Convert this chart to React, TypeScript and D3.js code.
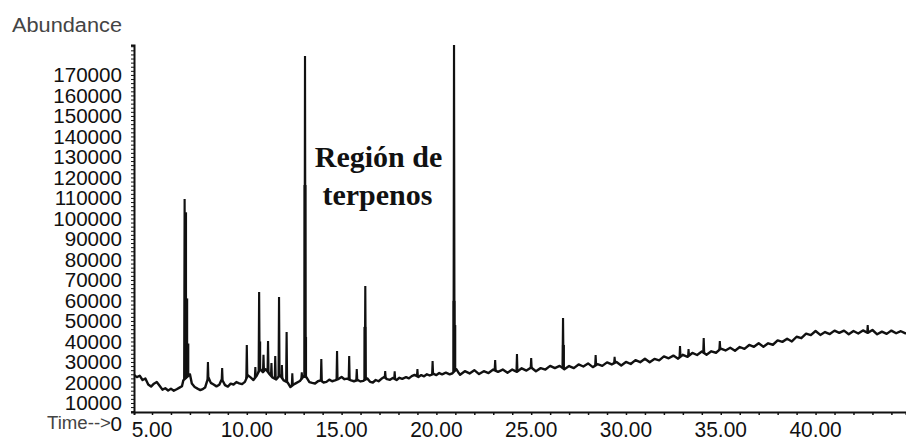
import React, { useEffect, useRef } from "react";
import * as d3 from "d3";

const WIDTH = 906;
const HEIGHT = 443;

// Baseline of the total-ion chromatogram: [retention time (min), abundance]
const baseline: [number, number][] = [
  [4.05, 23700], [4.2, 22600], [4.35, 23300], [4.5, 21200], [4.65, 21900], [4.8, 19000],
  [4.95, 18000], [5.1, 19400], [5.25, 20200], [5.4, 18400], [5.55, 16500], [5.7, 17200],
  [5.85, 16100], [6.0, 16900], [6.15, 16000], [6.3, 16700], [6.45, 17500], [6.58, 18200],
  [6.65, 21000], [7.0, 24000], [7.1, 19500], [7.25, 17800], [7.4, 17000], [7.55, 16300],
  [7.7, 16900], [7.8, 17500], [7.9, 20500], [8.0, 22000], [8.1, 19800], [8.25, 19000],
  [8.4, 18100], [8.55, 18900], [8.65, 21000], [8.75, 20500], [8.85, 18700], [9.0, 18000],
  [9.15, 19400], [9.3, 19000], [9.45, 20200], [9.6, 19600], [9.75, 19200], [9.9, 20300],
  [10.05, 23500], [10.2, 22500], [10.35, 21200], [10.5, 23000], [10.7, 26500], [10.85, 25000],
  [11.0, 26500], [11.2, 24000], [11.35, 22500], [11.55, 21500], [11.75, 23500], [11.95, 21000],
  [12.15, 20000], [12.3, 17800], [12.45, 18900], [12.6, 19700], [12.8, 20700], [13.0, 23000],
  [13.15, 22500], [13.3, 20200], [13.45, 19800], [13.6, 19500], [13.75, 20600], [13.9, 21000],
  [14.05, 20000], [14.2, 20300], [14.35, 21400], [14.5, 20600], [14.65, 21000], [14.85, 21800],
  [15.0, 22700], [15.15, 21600], [15.3, 21900], [15.5, 21000], [15.65, 20600], [15.85, 21200],
  [16.0, 20500], [16.15, 20800], [16.35, 22000], [16.5, 20300], [16.65, 20000], [16.8, 21200],
  [16.95, 20600], [17.1, 21800], [17.25, 22700], [17.4, 21600], [17.55, 21300], [17.7, 22200],
  [17.9, 21200], [18.05, 22300], [18.2, 21800], [18.4, 22600], [18.55, 22000], [18.7, 23100],
  [18.85, 23700], [19.05, 22700], [19.2, 23600], [19.35, 23000], [19.5, 24000], [19.65, 23400],
  [19.85, 24200], [20.0, 23600], [20.15, 24600], [20.3, 24000], [20.5, 24800], [20.7, 24000],
  [20.85, 24500], [21.05, 26500], [21.15, 25000],
  [21.25, 23800], [21.5, 25500], [21.75, 24400], [22.0, 26000], [22.25, 24100], [22.5, 25500],
  [22.75, 24600], [23.0, 26300], [23.25, 25200], [23.5, 26300], [23.75, 24700], [24.0, 26300],
  [24.25, 25200], [24.5, 26900], [24.75, 25800], [25.0, 27300], [25.25, 25500], [25.5, 27000],
  [25.75, 26300], [26.0, 28100], [26.25, 27000], [26.5, 28100], [26.75, 26400], [27.0, 28000],
  [27.25, 27000], [27.5, 28800], [27.75, 27800], [28.0, 29300], [28.25, 27500], [28.5, 28900],
  [28.75, 28100], [29.0, 29800], [29.25, 28800], [29.5, 30000], [29.75, 28300], [30.0, 30000],
  [30.25, 29000], [30.5, 30900], [30.75, 29900], [31.0, 31600], [31.25, 29900], [31.5, 31500],
  [31.75, 30800], [32.0, 32700], [32.25, 31800], [32.5, 33100], [32.75, 31600], [33.0, 33500],
  [33.25, 32500], [33.5, 34400], [33.75, 33400], [34.0, 35100], [34.25, 33500], [34.5, 35200],
  [34.75, 34500], [35.0, 36500], [35.25, 35600], [35.5, 36900], [35.75, 35500], [36.0, 37300],
  [36.25, 36400], [36.5, 38300], [36.75, 37400], [37.0, 39100], [37.25, 37400], [37.5, 39100],
  [37.75, 38400], [38.0, 40500], [38.25, 39800], [38.5, 41300], [38.75, 40000], [39.0, 42300],
  [39.25, 41600], [39.5, 43800], [39.75, 43100], [40.0, 45100], [40.25, 43200], [40.5, 44600],
  [40.75, 43600], [41.0, 45300], [41.25, 44200], [41.5, 45300], [41.75, 43500], [42.0, 45100],
  [42.25, 43900], [42.5, 45400], [42.75, 44200], [43.0, 45600], [43.25, 43500], [43.5, 44800],
  [43.75, 43700], [44.0, 45300], [44.25, 44000], [44.5, 45000], [44.77, 43800],
];

// Peak apexes: [retention time (min), abundance]
const peaks: [number, number][] = [
  [6.72, 109000], [7.95, 29500], [8.7, 26600], [10.0, 37800], [10.45, 27000],
  [10.65, 63700], [10.88, 33000], [11.12, 39800], [11.3, 29000], [11.5, 32400],
  [11.7, 61200], [11.85, 28000], [12.1, 44100], [12.4, 24000], [12.9, 24500],
  [13.07, 178800], [13.93, 31000], [14.76, 34900], [15.4, 32400], [15.8, 26100],
  [16.25, 66600], [17.3, 25100], [17.8, 25000], [19.0, 26100], [19.8, 30000],
  [20.93, 186000], [23.1, 30500], [24.25, 33400], [25.0, 31500], [26.68, 50900],
  [28.4, 32900], [29.4, 32000], [32.85, 37300], [33.3, 35900], [34.1, 41200],
  [34.95, 39800], [42.75, 47600],
];

// Co-eluting shoulders under the main apexes: [retention time (min), abundance]
const shoulders: [number, number][] = [
  [6.77, 103000], [6.83, 61000], [6.89, 39000], [10.68, 40000], [13.07, 116300],
  [13.1, 42200], [16.23, 47100], [20.93, 59800], [20.97, 48000], [26.7, 38300],
];

const yTickLabels = [
  0, 10000, 20000, 30000, 40000, 50000, 60000, 70000, 80000,
  90000, 100000, 110000, 120000, 130000, 140000, 150000, 160000, 170000,
];
const xTickLabels = [5, 10, 15, 20, 25, 30, 35, 40];

const INK = "#111";

function squeeze(sel: d3.Selection<SVGTextElement, any, any, any>, factor: number) {
  sel.each(function () {
    const w = this.getComputedTextLength();
    this.setAttribute("textLength", String(w * factor));
    this.setAttribute("lengthAdjust", "spacingAndGlyphs");
  });
}

export default function App() {
  const ref = useRef<SVGSVGElement | null>(null);

  useEffect(() => {
    const svg = d3.select(ref.current);
    svg.selectAll("*").remove();

    const x = d3.scaleLinear().domain([4.05, 44.77]).range([134, WIDTH]);
    const y = d3.scaleLinear().domain([5600, 184600]).range([412, 45]);

    const bis = d3.bisector((d: [number, number]) => d[0]).left;
    const baseAt = (t: number) => {
      const i = bis(baseline, t);
      if (i <= 0) return baseline[0][1];
      if (i >= baseline.length) return baseline[baseline.length - 1][1];
      const a = baseline[i - 1];
      const b = baseline[i];
      return a[1] + ((b[1] - a[1]) * (t - a[0])) / (b[0] - a[0]);
    };

    svg
      .append("defs")
      .append("clipPath")
      .attr("id", "plot-area")
      .append("rect")
      .attr("x", 134)
      .attr("y", 45)
      .attr("width", WIDTH - 134)
      .attr("height", 412 - 45);

    const line = d3
      .line<[number, number]>()
      .x((d) => x(d[0]))
      .y((d) => y(d[1]));

    const plot = svg.append("g").attr("clip-path", "url(#plot-area)");

    // shoulders: heavier strokes from the baseline
    plot
      .selectAll("line.shoulder")
      .data(shoulders)
      .join("line")
      .attr("class", "shoulder")
      .attr("x1", (d) => x(d[0]))
      .attr("x2", (d) => x(d[0]))
      .attr("y1", (d) => y(baseAt(d[0])))
      .attr("y2", (d) => y(d[1]))
      .attr("stroke", INK)
      .attr("stroke-width", 3);

    // baseline trace
    plot
      .append("path")
      .datum(baseline)
      .attr("d", line)
      .attr("fill", "none")
      .attr("stroke", INK)
      .attr("stroke-width", 2.4)
      .attr("stroke-linejoin", "round");

    // peaks
    plot
      .selectAll("path.peak")
      .data(peaks)
      .join("path")
      .attr("class", "peak")
      .attr("d", (d) =>
        line([
          [d[0] - 0.03, baseAt(d[0] - 0.03)],
          [d[0] - 0.004, d[1]],
          [d[0] + 0.004, d[1]],
          [d[0] + 0.03, baseAt(d[0] + 0.03)],
        ])
      )
      .attr("fill", "none")
      .attr("stroke", INK)
      .attr("stroke-width", 2)
      .attr("stroke-linejoin", "miter");

    // y axis: minor ticks every 2000
    const yAxis = d3
      .axisLeft(y)
      .tickValues(d3.range(6000, 184600, 2000))
      .tickSize(3)
      .tickFormat(() => "");
    const gy = svg.append("g").attr("transform", "translate(134,0)").call(yAxis);
    gy.select(".domain").attr("stroke", INK).attr("stroke-width", 2);
    gy.selectAll(".tick line").attr("stroke", INK).attr("stroke-width", 1);

    // y tick labels
    const yLab = svg
      .append("g")
      .selectAll("text")
      .data(yTickLabels)
      .join("text")
      .attr("x", 122)
      .attr("y", (d) => y(d))
      .attr("dy", "0.36em")
      .attr("text-anchor", "end")
      .attr("font-family", "Liberation Sans, Arial, sans-serif")
      .attr("font-size", 20)
      .attr("fill", INK)
      .text((d) => String(d));
    squeeze(yLab as any, 1.03);

    // x axis: minor ticks every minute
    const xAxis = d3
      .axisBottom(x)
      .tickValues(d3.range(5, 45, 1))
      .tickSize(3)
      .tickFormat(() => "");
    const gx = svg.append("g").attr("transform", "translate(0,412)").call(xAxis);
    gx.select(".domain").attr("stroke", INK).attr("stroke-width", 2);
    gx.selectAll(".tick line").attr("stroke", INK).attr("stroke-width", 1.5);

    const xLab = svg
      .append("g")
      .selectAll("text")
      .data(xTickLabels)
      .join("text")
      .attr("x", (d) => x(d))
      .attr("y", 437)
      .attr("text-anchor", "middle")
      .attr("font-family", "Liberation Sans, Arial, sans-serif")
      .attr("font-size", 22)
      .attr("fill", INK)
      .text((d) => d3.format(".2f")(d));
    squeeze(xLab as any, 0.95);

    // axis titles
    svg
      .append("text")
      .attr("x", 12)
      .attr("y", 32)
      .attr("font-family", "Liberation Sans, Arial, sans-serif")
      .attr("font-size", 20)
      .attr("fill", "#444")
      .attr("textLength", 110)
      .attr("lengthAdjust", "spacingAndGlyphs")
      .text("Abundance");

    svg
      .append("text")
      .attr("x", 47)
      .attr("y", 429)
      .attr("font-family", "Liberation Sans, Arial, sans-serif")
      .attr("font-size", 18)
      .attr("fill", "#444")
      .attr("textLength", 64)
      .attr("lengthAdjust", "spacingAndGlyphs")
      .text("Time-->");

    // region annotation
    const note = svg
      .append("g")
      .attr("font-family", "Liberation Serif, Times New Roman, serif")
      .attr("font-weight", "bold")
      .attr("font-size", 30)
      .attr("fill", INK)
      .attr("text-anchor", "middle");
    note.append("text").attr("x", 378.5).attr("y", 167).text("Región de");
    note.append("text").attr("x", 377.5).attr("y", 205).text("terpenos");
  }, []);

  return (
    <svg
      ref={ref}
      width={WIDTH}
      height={HEIGHT}
      style={{ position: "absolute", left: 0, top: 0, background: "#fff" }}
    />
  );
}
